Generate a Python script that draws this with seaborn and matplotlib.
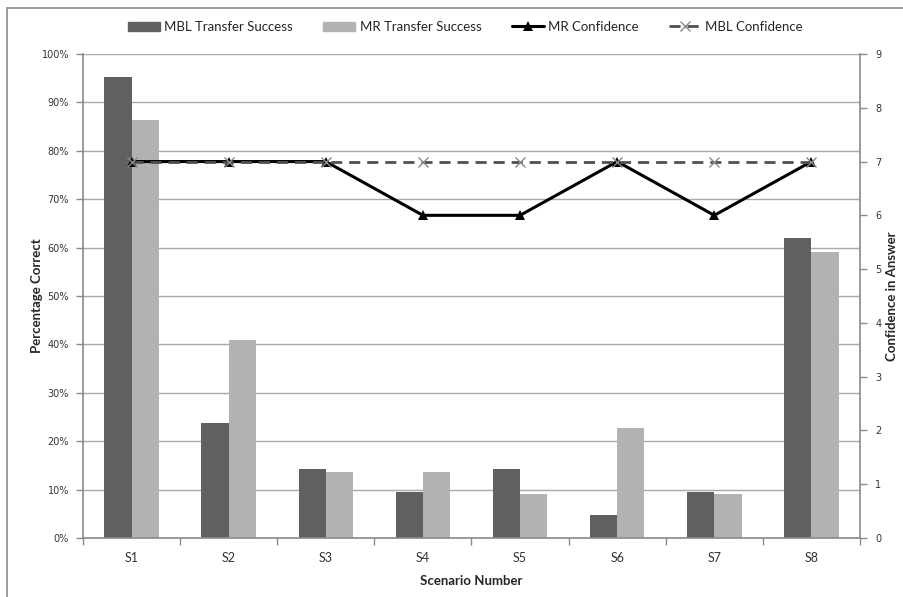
import matplotlib
matplotlib.use("Agg")
import matplotlib.pyplot as plt
import matplotlib.patches as mpatches
from matplotlib.ticker import PercentFormatter, FixedLocator
import seaborn as sns
import pandas as pd

scenarios = ["S1", "S2", "S3", "S4", "S5", "S6", "S7", "S8"]
mbl_success = [95.2, 23.8, 14.3, 9.5, 14.3, 4.8, 9.5, 61.9]
mr_success = [86.4, 40.9, 13.6, 13.6, 9.1, 22.7, 9.1, 59.1]
mr_confidence = [7, 7, 7, 6, 6, 7, 6, 7]
mbl_confidence = [7, 7, 7, 7, 7, 7, 7, 7]

bar_labels = ["MBL Transfer Success", "MR Transfer Success"]
bar_colors = ["#606060", "#b2b2b2"]

sns.set_theme(style="white")
plt.rcParams["font.family"] = ["DejaVu Sans"]
label_font = ["Lato", "DejaVu Sans"]

df = pd.DataFrame({
    "Scenario": scenarios * 2,
    "Percent": mbl_success + mr_success,
    "Series": [bar_labels[0]] * len(scenarios) + [bar_labels[1]] * len(scenarios),
})

fig = plt.figure(figsize=(9.04, 5.97), dpi=100)
ax = fig.add_axes([83 / 904, 1 - 538 / 597, (860 - 83) / 904, (538 - 54) / 597])

# outer chart frame
fig.add_artist(mpatches.Rectangle((7 / 904, -0.1), 1.2, 1 - 8 / 597 + 0.1,
                                  transform=fig.transFigure, fill=False,
                                  edgecolor="#8a8a8a", linewidth=1.2))

sns.barplot(data=df, x="Scenario", y="Percent", hue="Series",
            palette=bar_colors, width=0.56, gap=0, linewidth=0,
            ax=ax, legend=False)

ax.set_ylim(0, 100)
ax.set_xlim(-0.5, len(scenarios) - 0.5)
ax.yaxis.set_major_locator(FixedLocator(range(0, 101, 10)))
ax.yaxis.set_major_formatter(PercentFormatter(decimals=0))
ax.grid(axis="y", color="#a8a8a8", linewidth=1)
ax.set_axisbelow(True)

for side in ["top", "right"]:
    ax.spines[side].set_visible(False)
for side in ["left", "bottom"]:
    ax.spines[side].set_color("#8a8a8a")
    ax.spines[side].set_linewidth(1.2)

ax.tick_params(axis="y", which="major", direction="out", length=5, width=1,
               color="#8a8a8a", labelsize=7, labelcolor="#333333", pad=5, left=True)
ax.tick_params(axis="x", which="major", length=0, labelsize=9,
               labelcolor="#333333", pad=10)
ax.set_xticks([i + 0.5 for i in range(-1, len(scenarios))], minor=True)
ax.tick_params(axis="x", which="minor", direction="out", length=5, width=1,
               color="#8a8a8a", bottom=True)
for lab in ax.get_xticklabels():
    lab.set_family(label_font)

ax.set_xlabel("Scenario Number", fontsize=9.5, fontweight="bold",
              family=label_font, labelpad=8)
ax.set_ylabel("Percentage Correct", fontsize=9.5, fontweight="bold",
              family=label_font, labelpad=-1)

ax2 = ax.twinx()
sns.lineplot(x=scenarios, y=mr_confidence, ax=ax2, color="black",
             linewidth=2.2, marker="^", markersize=7, markeredgewidth=0,
             label="MR Confidence", legend=False, sort=False)
sns.lineplot(x=scenarios, y=mbl_confidence, ax=ax2, color="#505050",
             linewidth=2, linestyle=(0, (4, 2.5)), marker="x", markersize=7,
             markeredgecolor="#8a8a8a", markeredgewidth=1,
             label="MBL Confidence", legend=False, sort=False)
ax2.set_ylim(0, 9)
ax2.set_xlim(-0.5, len(scenarios) - 0.5)
ax2.yaxis.set_major_locator(FixedLocator(range(0, 10)))
for side in ["top", "left", "bottom"]:
    ax2.spines[side].set_visible(False)
ax2.spines["right"].set_color("#8a8a8a")
ax2.spines["right"].set_linewidth(1.2)
ax2.tick_params(axis="y", direction="out", length=5, width=1, color="#8a8a8a",
                labelsize=7, labelcolor="#333333", pad=6, right=True)
ax2.set_ylabel("Confidence in Answer", fontsize=9.5, fontweight="bold",
               family=label_font, labelpad=3)
ax2.grid(False)

handles = [mpatches.Patch(color=c, label=l) for c, l in zip(bar_colors, bar_labels)]
h2, l2 = ax2.get_legend_handles_labels()
handles += h2
fig.legend(handles=handles, loc="center", bbox_to_anchor=(0.515, 1 - 27 / 597),
           ncol=4, frameon=False, prop={"family": label_font, "size": 9.5},
           handlelength=2.4, handleheight=0.7, columnspacing=2.3, handletextpad=0.35)

fig.savefig("out.png", dpi=100)
